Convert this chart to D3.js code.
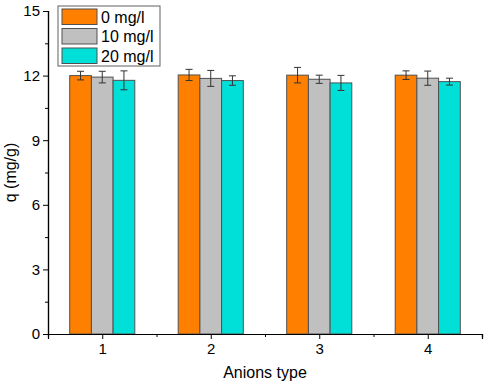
<!DOCTYPE html>
<html>
<head>
<meta charset="utf-8">
<script src="https://cdn.jsdelivr.net/npm/d3@7"></script>
<style>
  body { margin: 0; background: #fff; }
  text { font-family: "Liberation Sans", Arial, sans-serif; }
</style>
</head>
<body>
<div id="chart"></div>
<script>
const categories = [1, 2, 3, 4];
const seriesNames = ["0 mg/l", "10 mg/l", "20 mg/l"];
const values0 = [12.00, 12.03, 12.02, 12.02];
const values10 = [11.93, 11.87, 11.83, 11.88];
const values20 = [11.78, 11.77, 11.66, 11.72];
const err0 = [0.20, 0.26, 0.36, 0.20];
const err10 = [0.27, 0.37, 0.19, 0.33];
const err20 = [0.44, 0.22, 0.35, 0.16];
const yTicks = [0, 3, 6, 9, 12, 15];

const colors = ["#ff8000", "#c0c0c0", "#00e0d8"];
const W = 486, H = 388;
const margin = { top: 11, right: 4, bottom: 54, left: 48 };
const width = W - margin.left - margin.right;
const height = H - margin.top - margin.bottom;

const svg = d3.select("#chart").append("svg")
  .attr("width", W).attr("height", H);
const g = svg.append("g").attr("transform", `translate(${margin.left},${margin.top})`);

const x = d3.scaleLinear().domain([0.5, 4.5]).range([0, width]);
const y = d3.scaleLinear().domain([0, 15]).range([height, 0]);

const series = [values0, values10, values20];
const errs = [err0, err10, err20];
const barW = 0.2;

series.forEach((vals, s) => {
  const data = categories.map((c, i) => ({ c, v: vals[i], e: errs[s][i] }));
  const off = (s - 1) * barW;
  g.selectAll(".bar" + s).data(data).join("rect")
    .attr("x", d => x(d.c + off - barW / 2))
    .attr("y", d => y(d.v))
    .attr("width", x(barW) - x(0))
    .attr("height", d => height - y(d.v))
    .attr("fill", colors[s])
    .attr("stroke", "#505050")
    .attr("stroke-width", 1);
  const eg = g.selectAll(".err" + s).data(data).join("g")
    .attr("stroke", "#333").attr("stroke-width", 1);
  eg.append("line")
    .attr("x1", d => x(d.c + off)).attr("x2", d => x(d.c + off))
    .attr("y1", d => y(d.v + d.e)).attr("y2", d => y(d.v - d.e));
  [1, -1].forEach(sg => {
    eg.append("line")
      .attr("x1", d => x(d.c + off) - 3.5).attr("x2", d => x(d.c + off) + 3.5)
      .attr("y1", d => y(d.v + sg * d.e)).attr("y2", d => y(d.v + sg * d.e));
  });
});

// axes
const yAxis = g.append("g")
  .call(d3.axisLeft(y).tickValues(yTicks).tickSize(5).tickPadding(3));
g.append("g")
  .call(d3.axisLeft(y).tickValues(d3.range(1.5, 15, 3)).tickSize(3).tickFormat(""));
const xAxis = g.append("g").attr("transform", `translate(0,${height})`)
  .call(d3.axisBottom(x).tickValues(categories).tickSize(5).tickPadding(4).tickFormat(d3.format("d")));
g.append("g").attr("transform", `translate(0,${height})`)
  .call(d3.axisBottom(x).tickValues([0.5, 1.5, 2.5, 3.5, 4.5]).tickSize(3).tickFormat(""));
g.selectAll(".domain").attr("stroke", "#000").attr("stroke-width", 1.2);
g.selectAll(".tick line").attr("stroke", "#000");
g.selectAll(".tick text").attr("font-size", 15).attr("fill", "#000")
  .attr("font-family", "'Liberation Sans', Arial, sans-serif");

svg.append("text")
  .attr("x", margin.left + width / 2).attr("y", 378)
  .attr("text-anchor", "middle").attr("font-size", 16)
  .text("Anions type");
svg.append("text")
  .attr("transform", `translate(16,${margin.top + height / 2}) rotate(-90)`)
  .attr("text-anchor", "middle").attr("font-size", 16)
  .text("q (mg/g)");

// legend
const lg = svg.append("g").attr("transform", "translate(58,6)");
lg.append("rect").attr("width", 102).attr("height", 60)
  .attr("fill", "#fff").attr("stroke", "#606060");
seriesNames.forEach((n, i) => {
  lg.append("rect").attr("x", 4).attr("y", 3 + i * 19.5)
    .attr("width", 35).attr("height", 15.5)
    .attr("fill", colors[i]).attr("stroke", "#505050");
  lg.append("text").attr("x", 43).attr("y", 16.5 + i * 19.5)
    .attr("font-size", 16).text(n);
});
</script>
</body>
</html>
